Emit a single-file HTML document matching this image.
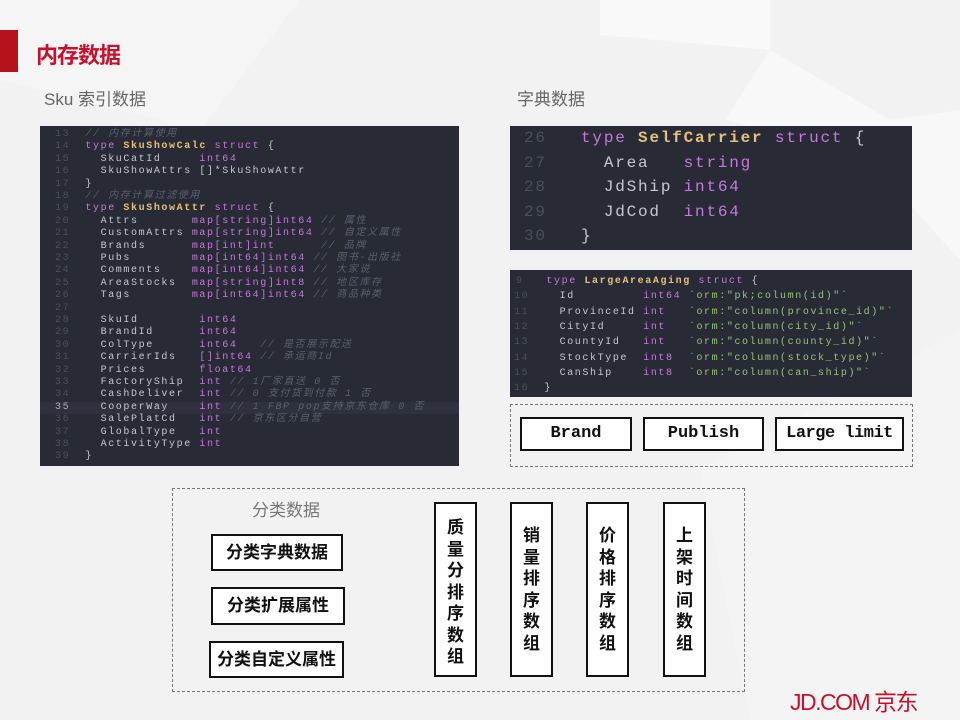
<!DOCTYPE html>
<html><head><meta charset="utf-8"><style>
*{margin:0;padding:0;box-sizing:border-box}
body{width:960px;height:720px;position:relative;overflow:hidden;background:#f2f2f3;font-family:"Liberation Sans","Noto Sans CJK SC",sans-serif}
.a{position:absolute}
.code{position:absolute;background:#282a35;font-family:"Liberation Mono",monospace;white-space:pre;color:#c5c8d0}
.code div{position:absolute;left:0;white-space:pre}
.n{color:#4a505e}.k{color:#c678dd}.t{color:#e5c07b;font-weight:bold}.c{color:#5a6070;font-style:italic}.s{color:#98c379}.p{color:#c678dd}
.btn{position:absolute;border:2px solid #111;background:#fff;font-family:"Liberation Mono",monospace;font-weight:bold;font-size:17px;text-align:center;line-height:30px;color:#111}
.cb{position:absolute;border:2px solid #111;background:#fff;font-weight:bold;font-size:17px;text-align:center;color:#111;font-family:"Liberation Sans","Noto Sans CJK SC",sans-serif}
.v{line-height:21.5px;padding-top:13px;font-size:17px}
.v6{padding-top:21px}
</style></head><body>
<svg class="a" style="left:0;top:0" width="960" height="720">
<polygon points="600,0 770,0 770,50 600,35" fill="#f9f9f9"/>
<polygon points="770,50 890,120 960,110 960,260 860,150 725,120" fill="#f8f8f8"/>
<polygon points="0,0 300,0 200,130 0,80" fill="#f5f5f6"/>
<polygon points="700,470 960,330 960,720 750,720" fill="#f4f4f5"/>
</svg>
<div class="a" style="left:0;top:30px;width:18px;height:42px;background:#b5121b"></div>
<div class="a" style="left:36px;top:38px;font-size:22px;font-weight:bold;color:#c8102e;letter-spacing:-1px">内存数据</div>
<div class="a" style="left:44px;top:85px;font-size:17px;color:#666">Sku 索引数据</div>
<div class="a" style="left:517px;top:85px;font-size:17px;color:#666">字典数据</div>

<div class="code" style="left:40px;top:126px;width:419px;height:340px;font-size:10px;letter-spacing:1.6px;line-height:12.4px">
<div style="top:3px;left:15px"><span class="n">13</span>  <span class="c">// 内存计算使用</span></div>
<div style="top:15.4px;left:15px"><span class="n">14</span>  <span class="k">type</span> <span class="t">SkuShowCalc</span> <span class="k">struct</span> {</div>
<div style="top:27.8px;left:15px"><span class="n">15</span>    SkuCatId     <span class="k">int64</span></div>
<div style="top:40.2px;left:15px"><span class="n">16</span>    SkuShowAttrs []*SkuShowAttr</div>
<div style="top:52.6px;left:15px"><span class="n">17</span>  }</div>
<div style="top:65px;left:15px"><span class="n">18</span>  <span class="c">// 内存计算过滤使用</span></div>
<div style="top:77.4px;left:15px"><span class="n">19</span>  <span class="k">type</span> <span class="t">SkuShowAttr</span> <span class="k">struct</span> {</div>
<div style="top:89.8px;left:15px"><span class="n">20</span>    Attrs       <span class="p">map[string]int64</span> <span class="c">// 属性</span></div>
<div style="top:102.2px;left:15px"><span class="n">21</span>    CustomAttrs <span class="p">map[string]int64</span> <span class="c">// 自定义属性</span></div>
<div style="top:114.6px;left:15px"><span class="n">22</span>    Brands      <span class="p">map[int]int</span>      <span class="c">// 品牌</span></div>
<div style="top:127px;left:15px"><span class="n">23</span>    Pubs        <span class="p">map[int64]int64</span> <span class="c">// 图书-出版社</span></div>
<div style="top:139.4px;left:15px"><span class="n">24</span>    Comments    <span class="p">map[int64]int64</span> <span class="c">// 大家说</span></div>
<div style="top:151.8px;left:15px"><span class="n">25</span>    AreaStocks  <span class="p">map[string]int8</span> <span class="c">// 地区库存</span></div>
<div style="top:164.2px;left:15px"><span class="n">26</span>    Tags        <span class="p">map[int64]int64</span> <span class="c">// 商品种类</span></div>
<div style="top:176.6px;left:15px"><span class="n">27</span></div>
<div style="top:189px;left:15px"><span class="n">28</span>    SkuId        <span class="k">int64</span></div>
<div style="top:201.4px;left:15px"><span class="n">29</span>    BrandId      <span class="k">int64</span></div>
<div style="top:213.8px;left:15px"><span class="n">30</span>    ColType      <span class="k">int64</span>   <span class="c">// 是否展示配送</span></div>
<div style="top:226.2px;left:15px"><span class="n">31</span>    CarrierIds   <span class="k">[]int64</span> <span class="c">// 承运商Id</span></div>
<div style="top:238.6px;left:15px"><span class="n">32</span>    Prices       <span class="k">float64</span></div>
<div style="top:251px;left:15px"><span class="n">33</span>    FactoryShip  <span class="k">int</span> <span class="c">// 1厂家直送 0 否</span></div>
<div style="top:263.4px;left:15px"><span class="n">34</span>    CashDeliver  <span class="k">int</span> <span class="c">// 0 支付货到付款 1 否</span></div>
<div style="top:275.8px;left:0;width:419px;background:#2f323e;padding-left:15px"><span style="color:#a8acb6">35</span>    CooperWay    <span class="k">int</span> <span class="c">// 1 FBP pop支持京东仓库 0 否</span></div>
<div style="top:288.2px;left:15px"><span class="n">36</span>    SalePlatCd   <span class="k">int</span> <span class="c">// 京东区分自营</span></div>
<div style="top:300.6px;left:15px"><span class="n">37</span>    GlobalType   <span class="k">int</span></div>
<div style="top:313px;left:15px"><span class="n">38</span>    ActivityType <span class="k">int</span></div>
<div style="top:325.4px;left:15px"><span class="n">39</span>  }</div>
</div>

<div class="code" style="left:510px;top:126px;width:402px;height:124px;font-size:16px;letter-spacing:1.8px;line-height:24.5px">
<div style="top:0;left:14px"><span class="n">26</span>   <span class="k">type</span> <span class="t">SelfCarrier</span> <span class="k">struct</span> {</div>
<div style="top:24.5px;left:14px"><span class="n">27</span>     Area   <span class="k">string</span></div>
<div style="top:49px;left:14px"><span class="n">28</span>     JdShip <span class="k">int64</span></div>
<div style="top:73.5px;left:14px"><span class="n">29</span>     JdCod  <span class="k">int64</span></div>
<div style="top:98px;left:14px"><span class="n">30</span>   }</div>
</div>

<div class="code" style="left:510px;top:270px;width:402px;height:127px;font-size:10px;letter-spacing:1.6px;line-height:15.3px">
<div style="top:4px;left:6px"><span class="n">9</span>   <span class="k">type</span> <span class="t">LargeAreaAging</span> <span class="k">struct</span> {</div>
<div style="top:19.3px;left:4px"><span class="n">10</span>    Id         <span class="k">int64</span> <span class="s">`orm:"pk;column(id)"`</span></div>
<div style="top:34.6px;left:4px"><span class="n">11</span>    ProvinceId <span class="k">int</span>   <span class="s">`orm:"column(province_id)"`</span></div>
<div style="top:49.9px;left:4px"><span class="n">12</span>    CityId     <span class="k">int</span>   <span class="s">`orm:"column(city_id)"`</span></div>
<div style="top:65.2px;left:4px"><span class="n">13</span>    CountyId   <span class="k">int</span>   <span class="s">`orm:"column(county_id)"`</span></div>
<div style="top:80.5px;left:4px"><span class="n">14</span>    StockType  <span class="k">int8</span>  <span class="s">`orm:"column(stock_type)"`</span></div>
<div style="top:95.8px;left:4px"><span class="n">15</span>    CanShip    <span class="k">int8</span>  <span class="s">`orm:"column(can_ship)"`</span></div>
<div style="top:111.1px;left:4px"><span class="n">16</span>  }</div>
</div>

<div class="a" style="left:510px;top:404px;width:403px;height:63px;border:1px dashed #777"></div>
<div class="btn" style="left:520px;top:417px;width:112px;height:34px">Brand</div>
<div class="btn" style="left:643px;top:417px;width:121px;height:34px">Publish</div>
<div class="btn" style="left:775px;top:417px;width:129px;height:34px;letter-spacing:-0.5px">Large limit</div>

<div class="a" style="left:172px;top:488px;width:573px;height:204px;border:1px dashed #777"></div>
<div class="a" style="left:252px;top:496px;font-size:17px;color:#777">分类数据</div>
<div class="cb" style="left:211px;top:534px;width:132px;height:37px;line-height:33px">分类字典数据</div>
<div class="cb" style="left:211px;top:587px;width:134px;height:38px;line-height:34px">分类扩展属性</div>
<div class="cb" style="left:209px;top:641px;width:135px;height:37px;line-height:33px">分类自定义属性</div>
<div class="cb v" style="left:434px;top:502px;width:43px;height:175px">质<br>量<br>分<br>排<br>序<br>数<br>组</div>
<div class="cb v v6" style="left:510px;top:502px;width:43px;height:175px">销<br>量<br>排<br>序<br>数<br>组</div>
<div class="cb v v6" style="left:586px;top:502px;width:43px;height:175px">价<br>格<br>排<br>序<br>数<br>组</div>
<div class="cb v v6" style="left:663px;top:502px;width:43px;height:175px">上<br>架<br>时<br>间<br>数<br>组</div>

<div class="a" style="left:790px;top:683px;font-size:23px;color:#c8102e;letter-spacing:-1.5px">JD.COM 京东</div>
</body></html>
